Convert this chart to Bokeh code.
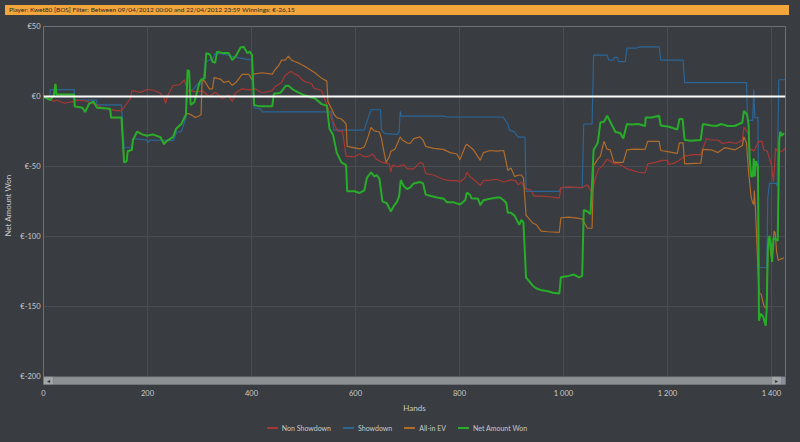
from bokeh.plotting import figure
from bokeh.models import Range1d, FixedTicker, Span, BoxAnnotation, Div, Label
from bokeh.layouts import column
from bokeh.embed import file_html
from bokeh.resources import INLINE

# ---------------- data ----------------
TITLE = "Player: Kwet80 [BOS] Filter: Between 09/04/2012 00:00 and 22/04/2012 23:59 Winnings: €-26,15"

x_ticks = [0, 200, 400, 600, 800, 1000, 1200, 1400]
x_tick_labels = ["0", "200", "400", "600", "800", "1 000", "1 200", "1 400"]
y_ticks = [-200, -150, -100, -50, 0, 50]
y_tick_labels = ["€-200", "€-150", "€-100", "€-50", "€0", "€50"]

net_hands = [0, 13, 20, 23, 25, 40, 59, 60, 75, 80, 88, 96, 103, 128, 130, 150, 155, 160, 162, 170,
             172, 180, 190, 199, 210, 225, 232, 236, 249, 255, 265, 274, 277, 280, 283, 290, 300, 303,
             310, 313, 320, 325, 330, 334, 345, 356, 363, 370, 379, 385, 392, 397, 401, 405, 415, 425,
             440, 443, 455, 466, 471, 480, 490, 503, 512, 522, 535, 545, 550, 557, 564, 573, 582, 584,
             598, 608, 617, 622, 630, 636, 641, 646, 652, 660, 668, 674, 680, 684, 687, 693, 699, 705,
             712, 724, 730, 735, 745, 757, 770, 776, 789, 801, 811, 814, 820, 823, 836, 840, 846, 859,
             872, 878, 885, 890, 893, 899, 906, 915, 919, 923, 928, 941, 948, 956, 970, 980, 992, 995,
             1010, 1020, 1030, 1036, 1039, 1046, 1052, 1058, 1062, 1066, 1071, 1078, 1084, 1090, 1100,
             1109, 1115, 1122, 1131, 1144, 1157, 1158, 1170, 1184, 1187, 1203, 1219, 1223, 1229, 1233,
             1245, 1264, 1268, 1284, 1294, 1303, 1316, 1329, 1344, 1347, 1353, 1356, 1358, 1361, 1364,
             1366, 1368, 1370, 1374, 1376, 1379, 1384, 1389, 1391, 1393, 1396, 1399, 1401, 1404, 1409,
             1412, 1415, 1417, 1420, 1424]
net_values = [0, -2.5, 1, 9, 1.5, 1.4, 1.4, -7, -8, -11, -5, -3.6, -8, -8.7, -15, -15, -47, -46, -39, -38,
              -31, -25, -27, -28, -27, -29, -34, -32, -29, -23, -19.6, -12.8, 19, 18, -6, -4, 10, 12,
              13, 31, 30, 25, 24, 32, 31, 31, 26, 29, 35, 35.5, 31, 32, 29.5, -6, -7, -7,
              -7, 2, 2.5, 7.7, 7.7, 5, 3, 0.7, -0.3, -1.3, -5.4, -6.5, -23, -27.5, -40, -47, -49, -67.6,
              -67.6, -68.8, -67, -58, -54, -57, -56, -58.6, -75, -76, -82, -78, -75, -71, -59.6, -64, -66, -65,
              -62, -61, -62, -70, -71, -72, -73, -75.5, -75.5, -77, -74, -68.6, -70, -72.5, -73, -77.5, -74, -73,
              -72, -72, -74, -76, -83, -83, -85, -91.5, -88, -90, -129, -135, -137, -138, -139, -140, -140.6, -129,
              -128, -127, -129, -128, -81, -82, -84, -38, -35.6, -33, -18.5, -18, -13.7, -18, -25.3,
              -26, -30, -19.6, -20, -19.6, -21, -15, -15, -13.7, -20.6, -21.5, -23.5, -16, -16, -31,
              -31.5, -31, -19.6, -20.6, -21, -19.6, -21, -21, -18.5, -10.3, -12.7, -20, -43.6, -57, -57,
              -44, -57, -46, -50, -160, -155, -157, -163.5, -150, -108.7, -99.5, -106, -118, -101, -102,
              -103, -31, -25, -28, -26]

sd_hands = [0, 12, 13, 59, 60, 102, 103, 150, 155, 170, 172, 199, 200, 205, 250, 256, 265, 268, 274, 277,
            282, 288, 296, 306, 311, 318, 325, 330, 350, 370, 400, 405, 418, 420, 554, 558, 617, 620, 630,
            648, 650, 656, 681, 684, 686, 688, 770, 775, 884, 893, 896, 905, 913, 926, 928, 992, 995, 1036,
            1039, 1055, 1058, 1084, 1087, 1096, 1098, 1104, 1106, 1119, 1122, 1140, 1147, 1184, 1187, 1230,
            1233, 1352, 1354, 1364, 1366, 1368, 1374, 1376, 1391, 1393, 1396, 1409, 1411, 1414, 1426]
sd_values = [0, 0, 5, 5, -2.5, -2.5, -6, -6, -36.7, -36, -30, -31, -33, -31, -31.5, -25.3, -25, -22, -15, 4.3,
             4.5, 5, 9, 9, 24, 26, 26, 31, 30, 28, 26, -8, -9, -11, -11, -24, -24, -20, -9.4,
             -9.4, -24, -26.5, -27, -25, -10.5, -14, -14, -14.6, -14.6, -19.6, -24, -25, -29, -29, -67.6, -67.6, -65, -65,
             -19.6, -19.6, 29.5, 29.5, 26, 26, 28, 28, 25, 25, 34.5, 34.5, 35.5, 35.5, 26, 26,
             10, 10, -17, -17, 5, -15, -15, -122, -122, -72, -62, -62, -64, 12, 12]

nsd_hands = [0, 10, 19, 25, 40, 59, 63, 80, 100, 110, 125, 140, 150, 155, 167, 170, 180, 187, 199, 212, 225,
             232, 235, 238, 249, 262, 271, 274, 279, 283, 293, 306, 318, 331, 344, 356, 363, 369, 382, 395,
             407, 420, 439, 445, 458, 464, 471, 477, 483, 490, 496, 503, 509, 516, 520, 535, 547, 553, 560,
             566, 575, 582, 598, 608, 617, 627, 633, 640, 652, 665, 668, 671, 681, 693, 700, 712, 724, 730,
             735, 750, 769, 782, 795, 801, 811, 814, 820, 833, 840, 846, 859, 872, 885, 898, 908, 913, 919,
             926, 938, 943, 956, 973, 992, 995, 1010, 1036, 1046, 1055, 1062, 1068, 1074, 1084, 1090, 1097,
             1106, 1122, 1131, 1144, 1157, 1162, 1177, 1190, 1200, 1203, 1213, 1223, 1233, 1249, 1264, 1275,
             1284, 1297, 1306, 1319, 1332, 1344, 1347, 1353, 1356, 1358, 1363, 1366, 1376, 1382, 1385, 1392,
             1396, 1400, 1404, 1408, 1412, 1420, 1426]
nsd_values = [0, -1, -3.5, -2.5, -4.8, -3.5, -2.7, -3, -5.5, -7.5, -9, -10, -10, -7.5, -1.4, 4.3, 3.5, 3, 5, 4.5, 2.3,
              -1.4, -4.8, 0, 7.7, 8.5, 12, 8, 3.5, 4, 3.4, 4, 0, 3, -1.4, 1, -3.5, 2.5, 5.5, 4.8,
              5.5, 2.7, 4, 7, 10, 14.6, 17, 18, 16, 15, 12.5, 10.5, 10, 9, 6, 4.3, -8, -15, -20.6,
              -24.6, -24.6, -42.5, -43, -41, -43, -42.5, -41, -44.7, -47, -48, -54, -49, -50, -48.5, -51.6, -51.6, -47, -48,
              -55, -56, -59, -60, -60, -61, -58, -54, -57, -61, -63.5, -60, -59.6, -59, -61, -59.5, -60, -63, -61,
              -65.5, -67, -71, -71, -71.5, -72.5, -65, -64.5, -65, -63, -68.7, -57, -51.6, -50, -44.7, -46, -48,
              -48, -51.6, -52.5, -54, -54.5, -48, -47, -45.5, -45.5, -48.5, -47.5, -45.5, -42.5, -41.5, -41.5, -30,
              -31, -31, -33.5, -32.5, -33.5, -31, -22, -25, -27, -38, -38, -39, -32, -32, -38, -39,
              -44, -49, -60.7, -36.7, -40, -39, -37]

ev_hands = [0, 13, 20, 23, 25, 40, 59, 60, 75, 80, 88, 96, 103, 128, 130, 150, 155, 160, 162, 170,
            172, 180, 190, 199, 210, 225, 232, 236, 249, 255, 265, 274, 277, 283, 292, 298, 303, 305,
            310, 319, 325, 328, 340, 347, 356, 363, 370, 382, 395, 401, 404, 420, 440, 445, 452, 458,
            465, 471, 477, 483, 490, 503, 509, 522, 535, 545, 547, 553, 559, 564, 573, 582, 584, 596,
            608, 617, 623, 630, 636, 646, 650, 655, 659, 665, 668, 676, 686, 690, 699, 705, 712, 724,
            730, 735, 750, 769, 782, 795, 801, 811, 814, 827, 840, 846, 859, 872, 885, 890, 893, 899,
            906, 915, 919, 923, 928, 940, 948, 957, 970, 992, 995, 1010, 1030, 1036, 1046, 1055, 1058,
            1066, 1071, 1078, 1084, 1090, 1097, 1115, 1122, 1135, 1157, 1162, 1184, 1187, 1203, 1219,
            1223, 1230, 1233, 1264, 1268, 1284, 1297, 1310, 1330, 1344, 1347, 1352, 1356, 1361, 1364,
            1366, 1367, 1369, 1376, 1380, 1386, 1390, 1394, 1396, 1399, 1401, 1405, 1407, 1410, 1413,
            1418, 1424]
ev_values = [0, -2.5, 1, 9, 1.5, 1.4, 1.4, -7, -8, -11, -5, -3.6, -8, -8.7, -15, -15, -47, -46, -39, -38,
             -31, -25, -27, -28, -27, -29, -34, -32, -29, -23, -19.6, -12.8, -12, -12.8, -15, -14, -13, 12,
             11, 5.5, 5.5, 13.5, 12.5, 10, 11, 8, 10, 15.8, 15.8, 12, 16, 17, 16, 19, 22, 26,
             26, 28.8, 26, 25, 24, 21.5, 20, 17, 13, 11, -3.5, -8, -12.8, -15, -16, -19.6, -35.6, -36.5,
             -37.4, -36, -30, -22, -24.5, -25.3, -30, -40, -47, -43, -39, -37.5, -28.8, -31, -33, -33.5, -30, -28.8,
             -31, -35.6, -37, -37.7, -40, -41, -45, -35.6, -34, -38, -45.5, -40, -38.5, -39, -38.5, -47, -52.7, -51,
             -57, -56, -56, -58, -84.7, -90, -91.5, -96, -96.5, -97, -86.5, -86, -87, -87.5, -94, -94, -49.3,
             -44.7, -42.5, -32, -37.5, -38, -47, -47, -38, -37.5, -37.7, -32, -32, -38.5, -39.5, -40.5,
             -33, -33, -48, -47.5, -37.7, -38, -40, -36.5, -38, -35, -28.8, -33, -54, -72, -76,
             -77, -67, -78.6, -140, -141, -150, -151, -100.7, -103, -113, -116, -96, -97, -111, -117,
             -116, -115]

series_names = ["Non Showdown", "Showdown", "All-in EV", "Net Amount Won"]

# ---------------- style ----------------
BG = "#393c40"
GRID = "#4a4d51"
TXT = "#c9cacb"
FONT = "Lato"
C_NSD, C_SD, C_EV, C_NET = "#a83834", "#2a6697", "#b26c2a", "#27ad29"
series_colors = [C_NSD, C_SD, C_EV, C_NET]

X_END = 1427
Y_TOP = 50
Y_LOW = -200
SCROLL = 5.5  # height (in axis units) reserved for the scroll bar strip

p = figure(frame_width=742, frame_height=358, output_backend="svg", toolbar_location=None,
           x_range=Range1d(0, X_END), y_range=Range1d(Y_LOW - SCROLL, Y_TOP),
           background_fill_color=BG, border_fill_color=BG,
           min_border_left=38, min_border_right=4, min_border_top=6, min_border_bottom=0)
p.outline_line_color = "#6f7275"
p.outline_line_width = 1

p.xaxis.ticker = FixedTicker(ticks=x_ticks)
p.xaxis.major_label_overrides = dict(zip(x_ticks, x_tick_labels))
p.yaxis.ticker = FixedTicker(ticks=y_ticks)
p.yaxis.major_label_overrides = dict(zip(y_ticks, y_tick_labels))
for ax in (p.xaxis, p.yaxis):
    ax.axis_line_color = None
    ax.major_tick_line_color = None
    ax.minor_tick_line_color = None
    ax.major_tick_out = 0
    ax.major_tick_in = 0
    ax.major_label_text_color = TXT
    ax.major_label_text_font = FONT
    ax.major_label_text_font_size = "7.5px"
    ax.axis_label_text_color = TXT
    ax.axis_label_text_font = FONT
    ax.axis_label_text_font_size = "8px"
    ax.axis_label_text_font_style = "normal"
p.xaxis.axis_label = "Hands"
p.yaxis.axis_label = "Net Amount Won"
p.xaxis.major_label_standoff = 4
p.yaxis.major_label_standoff = 3
p.xaxis.axis_label_standoff = 2
p.yaxis.axis_label_standoff = 4

p.xgrid.grid_line_color = GRID
p.ygrid.grid_line_color = GRID

p.line(sd_hands, sd_values, line_color=C_SD, line_width=1.2)
p.line(nsd_hands, nsd_values, line_color=C_NSD, line_width=1.2)
p.line(ev_hands, ev_values, line_color=C_EV, line_width=1.2)
p.line(net_hands, net_values, line_color=C_NET, line_width=2)

p.add_layout(Span(location=0, dimension="width", line_color="white", line_width=2))

# scroll bar strip below the €-200 line
p.add_layout(BoxAnnotation(bottom=Y_LOW - SCROLL, top=Y_LOW, fill_color="#8d9093", fill_alpha=1,
                           line_color="#5d6063", line_width=1))
p.add_layout(BoxAnnotation(left=0, right=19, bottom=Y_LOW - SCROLL, top=Y_LOW, fill_color="#a3a6a9",
                           fill_alpha=1, line_color="#5d6063"))
p.add_layout(BoxAnnotation(left=X_END - 27, right=X_END - 8, bottom=Y_LOW - SCROLL, top=Y_LOW,
                           fill_color="#a3a6a9", fill_alpha=1, line_color="#5d6063"))
p.add_layout(Label(x=9, y=Y_LOW - SCROLL / 2, text="◂", text_font_size="6px", text_color="#333333",
                   text_align="center", text_baseline="middle"))
p.add_layout(Label(x=X_END - 17, y=Y_LOW - SCROLL / 2, text="▸", text_font_size="6px", text_color="#333333",
                   text_align="center", text_baseline="middle"))

title = Div(text=TITLE, width=784, height=10,
            styles={"background-color": "#f2a53b", "color": "#2a2a2a", "font-size": "6.5px",
                    "font-family": FONT, "line-height": "10px", "padding-left": "4px",
                    "box-sizing": "border-box", "overflow": "hidden", "white-space": "nowrap"})

items_html = "".join(
    '<span style="display:inline-flex;align-items:center;margin:0 6px">'
    f'<span style="display:inline-block;width:11px;height:2px;background:{c};margin-right:4px"></span>'
    f'{name}</span>'
    for name, c in zip(series_names, series_colors))
legend_div = Div(text=items_html, width=784, height=14,
                 styles={"background-color": BG, "color": TXT, "font-size": "7px", "font-family": FONT,
                         "display": "flex", "justify-content": "center", "align-items": "center",
                         "box-sizing": "border-box"})

layout = column(title, p, legend_div, spacing=0)

# dark page background around the 8px body margin (same as the application window)
PAGE_TEMPLATE = ("{% block preamble %}<style>html, body { background-color: " + BG +
                 "; }</style>{% endblock %}")
open("out.html", "w").write(file_html(layout, INLINE, template=PAGE_TEMPLATE))
